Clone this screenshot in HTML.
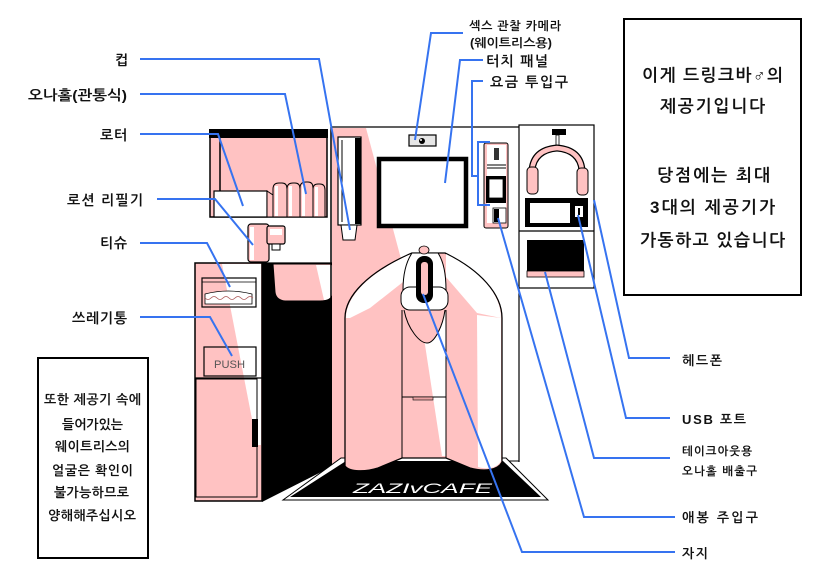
<!DOCTYPE html>
<html><head><meta charset="utf-8"><style>
html,body{margin:0;padding:0;background:#fff;}
svg{display:block;}
text{font-family:"Liberation Sans","NanumGothic","Noto Sans CJK KR",sans-serif;fill:#111;font-weight:bold;}
</style></head><body>
<svg width="819" height="579" viewBox="0 0 819 579" xmlns="http://www.w3.org/2000/svg">
<rect x="0" y="0" width="819" height="579" fill="#fff"/>

<!-- Shelf (rotor / onahole) -->
<rect x="210" y="130" width="117" height="87" fill="#ffc2c2" stroke="#000" stroke-width="1.5"/>
<rect x="209" y="129" width="119" height="9" fill="#000"/>
<line x1="220" y1="138" x2="220" y2="217" stroke="#000" stroke-width="1.5"/>
<rect x="214" y="191" width="53" height="26" fill="#fff" stroke="#000" stroke-width="1.2"/>
<polygon points="267,191 273,195 273,217 267,217" fill="#ffc2c2" stroke="#000" stroke-width="1"/>
<g stroke="#000" stroke-width="1" fill="#ffc2c2">
<path d="M273,217 L273,189 Q273,183 279,183 L282,183 Q287,183 287,189 L287,217 Z"/>
<path d="M287,217 L287,189 Q287,183 293,183 L295,183 Q300,183 300,189 L300,217 Z"/>
<path d="M300,217 L300,188 Q300,182 306,182 L308,182 Q313,182 313,188 L313,217 Z"/>
<path d="M313,217 L313,189 Q313,184 318,184 L320,184 Q325,184 325,190 L325,217 Z"/>
</g>
<g fill="#fff">
<rect x="275" y="186" width="3" height="30"/>
<rect x="289" y="186" width="3" height="30"/>
<rect x="302" y="185" width="3" height="31"/>
<rect x="315" y="187" width="3" height="29"/>
</g>

<!-- Lotion dispenser -->
<rect x="248" y="224" width="21" height="38" rx="3" fill="#ffc2c2" stroke="#000" stroke-width="1.2"/>
<rect x="250" y="227" width="4" height="33" fill="#fff"/>
<rect x="267" y="226" width="18" height="18" rx="2" fill="#ffc2c2" stroke="#000" stroke-width="1.2"/>
<rect x="270" y="229" width="12" height="6" fill="#fff"/>
<rect x="272" y="244" width="8" height="6" fill="#fff" stroke="#000" stroke-width="1"/>

<!-- Cabinet -->
<rect x="195" y="263" width="67" height="238" fill="#ffc2c2" stroke="#000" stroke-width="1.5"/>
<polygon points="222,264 261,264 261,445 257,445" fill="#fff"/>
<rect x="202" y="278" width="54" height="29" fill="none" stroke="#000" stroke-width="1.2"/>
<line x1="202" y1="282" x2="256" y2="282" stroke="#000" stroke-width="0.8"/>
<path d="M205,304 L205,294 Q228,288 252,294 L252,304 Z" fill="#fff" stroke="#000" stroke-width="0.8"/>
<path d="M205,298 q3,3 6,0 t6,0 t6,0 t6,0 t6,0 t6,0 t6,0 t6,0" fill="none" stroke="#a55" stroke-width="0.8"/>
<rect x="204" y="347" width="52" height="29" fill="none" stroke="#000" stroke-width="1.2"/>
<text x="214" y="368" font-size="11" style="fill:#555;font-weight:normal" textLength="31" lengthAdjust="spacingAndGlyphs">PUSH</text>
<line x1="195" y1="378" x2="262" y2="378" stroke="#000" stroke-width="1.2"/>
<rect x="196" y="379" width="61" height="118" fill="none" stroke="#000" stroke-width="1"/>
<rect x="252" y="419" width="6" height="28" fill="#000"/>

<!-- Black side -->
<polygon points="262,263 333,263 333,466 262,502" fill="#000"/>
<!-- Counter -->
<path d="M273,264 L331,264 Q336,266 335,280 L334,292 Q332,301 320,301 L285,301 Q276,300 275,292 Z" fill="#ffc2c2" stroke="#000" stroke-width="1"/>
<path d="M316,265 L331,265 Q335,267 334,280 L333,292 Q331,300 324,300 Z" fill="#fff"/>
<line x1="262" y1="263" x2="333" y2="263" stroke="#000" stroke-width="1.2"/>

<!-- Main body -->
<polygon points="332,128 366,128 420,330 345,468 332,468" fill="#ffc2c2"/>
<line x1="331" y1="127" x2="331" y2="467" stroke="#000" stroke-width="1.5"/>
<line x1="331" y1="127" x2="519" y2="127" stroke="#000" stroke-width="1.2"/>

<!-- Cup dispenser -->
<rect x="338" y="137" width="23" height="88" fill="#fff" stroke="#000" stroke-width="1.2"/>
<rect x="355" y="138" width="6" height="86" fill="#000"/>
<line x1="342" y1="140" x2="342" y2="222" stroke="#000" stroke-width="1"/>
<polygon points="341,225 357,225 355,240 343,240" fill="#fff" stroke="#000" stroke-width="1"/>

<!-- Camera -->
<rect x="409" y="135" width="27" height="11" fill="#e6e6e6" stroke="#000" stroke-width="1.2"/>
<circle cx="422" cy="141" r="3" fill="#000"/>
<circle cx="421" cy="140" r="1" fill="#fff"/>

<!-- Touch panel -->
<rect x="379" y="159" width="87" height="67" fill="#fff" stroke="#000" stroke-width="4.5"/>

<!-- Payment panel -->
<rect x="484" y="143" width="24" height="85" rx="2" fill="#ffc2c2" stroke="#000" stroke-width="1"/>
<rect x="487" y="145" width="19" height="78" fill="#fff"/>
<rect x="494" y="148" width="5" height="12" fill="#333"/>
<line x1="487" y1="165" x2="506" y2="165" stroke="#000" stroke-width="1"/>
<line x1="487" y1="168" x2="506" y2="168" stroke="#000" stroke-width="1"/>
<rect x="486" y="176" width="20" height="27" fill="#000"/>
<rect x="489" y="179" width="14" height="19" fill="#fff" stroke="#000" stroke-width="0.8"/>
<rect x="493" y="208" width="13" height="15" fill="#fff" stroke="#000" stroke-width="0.8"/>
<rect x="494" y="209" width="5" height="13" fill="#000"/>

<!-- Right unit -->
<rect x="519" y="125" width="75" height="163" fill="#fff" stroke="#000" stroke-width="1.2"/>
<line x1="519" y1="231" x2="594" y2="231" stroke="#000" stroke-width="1.2"/>
<line x1="519" y1="288" x2="519" y2="462" stroke="#000" stroke-width="1.2"/>
<line x1="502" y1="461" x2="519" y2="461" stroke="#000" stroke-width="1"/>
<rect x="552" y="129" width="14" height="6" fill="#000"/>
<rect x="556" y="135" width="3" height="15" fill="#fff" stroke="#000" stroke-width="0.8"/>
<path d="M532,170 Q534,150 557,148 Q580,150 582,170" fill="none" stroke="#000" stroke-width="7"/>
<path d="M532,170 Q534,150 557,148 Q580,150 582,170" fill="none" stroke="#ffc2c2" stroke-width="4.5"/>
<rect x="527" y="167" width="11" height="27" rx="4" fill="#ffc2c2" stroke="#000" stroke-width="1"/>
<rect x="577" y="168" width="11" height="27" rx="4" fill="#ffc2c2" stroke="#000" stroke-width="1"/>
<rect x="525" y="198" width="63" height="29" fill="#000"/>
<rect x="530" y="203" width="40" height="20" fill="#fff"/>
<rect x="575" y="206" width="8" height="11" fill="#fff"/>
<rect x="578" y="208" width="2" height="7" fill="#000"/>
<rect x="527" y="240" width="57" height="33" fill="#000"/>
<rect x="527" y="271" width="57" height="6" fill="#ffc2c2" stroke="#000" stroke-width="0.8"/>

<!-- Floor mat -->
<polygon points="283,500 548,500 506,458 341,458" fill="#fff" stroke="#000" stroke-width="1"/>
<polygon points="290,497 541,497 503,461 346,461" fill="#000"/>

<!-- Pod -->
<path d="M345,466 L345,318 C345,296 368,272 412,253 L445,253 C480,270 502,294 502,318 L502,462 C498,470 485,472 470,468 L446,458 L402,458 L378,468 C365,472 350,472 345,466 Z" fill="#ffc2c2" stroke="#000" stroke-width="1.3"/>
<path d="M346,318 C346,297 368,273 411,254 L403,282 L370,308 L350,318 Z" fill="#fff"/>
<path d="M446,254 C480,271 501,294 501,318 L477,313 L446,277 Z" fill="#fff"/>
<path d="M477,315 L501,318 L501,461 C497,468 488,470 478,467 Z" fill="#fff"/>
<polygon points="420,312 446,312 446,456 442,456" fill="#fff"/>
<line x1="402" y1="310" x2="402" y2="458" stroke="#000" stroke-width="1"/>
<line x1="446" y1="310" x2="446" y2="458" stroke="#000" stroke-width="1"/>
<line x1="402" y1="397" x2="446" y2="397" stroke="#000" stroke-width="1"/>
<rect x="413" y="397" width="20" height="3" fill="#e9a0a0" stroke="#000" stroke-width="0.6"/>
<path d="M404,310 C408,330 420,343 427,343 C435,343 443,325 445,310" fill="#ffc2c2" stroke="#000" stroke-width="1"/>
<path d="M403,290 C403,275 406,262 412,253 L438,253 C444,262 446,276 446,290 Z" fill="#fff" stroke="#000" stroke-width="1"/>
<rect x="401" y="287" width="47" height="23" rx="9" fill="#fff" stroke="#000" stroke-width="1"/>
<rect x="416" y="256" width="17" height="47" rx="8" fill="#000"/>
<rect x="421" y="262" width="7" height="33" rx="3" fill="#ffc2c2"/>
<ellipse cx="424" cy="250" rx="5" ry="4" fill="#ffc2c2" stroke="#000" stroke-width="0.8"/>
<text x="353" y="493" font-size="14" font-style="italic" style="fill:#fff;font-weight:normal" textLength="139" lengthAdjust="spacingAndGlyphs">ZAZIvCAFE</text>

<!-- Blue leader lines -->
<g fill="none" stroke="#3673f0" stroke-width="2">
<polyline points="140,59 319,59 350,230"/>
<polyline points="140,94 285,94 306,194"/>
<polyline points="140,134 218,134 243,206"/>
<polyline points="157,199 215,199 253,245"/>
<polyline points="140,243 207,243 230,287"/>
<polyline points="140,317 210,317 232,356"/>
<polyline points="463,33 431,33 415,140"/>
<polyline points="483,60 460,60 445,183"/>
<polyline points="483,81 472,81 472,176 478,176"/>
<polyline points="490,142 478,142 478,205 490,205"/>
<polyline points="670,358 629,358 594,200"/>
<polyline points="670,418 626,418 578,215"/>
<polyline points="670,458 594,458 545,272"/>
<polyline points="675,517 584,517 498,218"/>
<polyline points="675,552 522,552 423,294"/>
</g>

<!-- Left labels -->
<g font-size="14">
<text x="115" y="65" textLength="12">컵</text>
<text x="28" y="100" textLength="99" lengthAdjust="spacingAndGlyphs">오나홀(관통식)</text>
<text x="100" y="140" textLength="27">로터</text>
<text x="67" y="205" textLength="76">로션 리필기</text>
<text x="100" y="248" textLength="27">티슈</text>
<text x="72" y="323" textLength="55">쓰레기통</text>
</g>
<!-- Top labels -->
<text x="469" y="30" font-size="12" textLength="92">섹스 관찰 카메라</text>
<text x="470" y="47" font-size="12" textLength="82" lengthAdjust="spacingAndGlyphs">(웨이트리스용)</text>
<text x="486" y="66" font-size="14" textLength="62">터치 패널</text>
<text x="490" y="87" font-size="14" textLength="78">요금 투입구</text>
<!-- Right labels -->
<text x="682" y="365" font-size="13" textLength="40">헤드폰</text>
<text x="682" y="424" font-size="13" textLength="64">USB 포트</text>
<text x="682" y="455" font-size="11.5" textLength="70">테이크아웃용</text>
<text x="682" y="475" font-size="11.5" textLength="75">오나홀 배출구</text>
<text x="682" y="522" font-size="13" textLength="76">애봉 주입구</text>
<text x="682" y="558" font-size="13" textLength="26">자지</text>

<!-- Right box -->
<rect x="624" y="19" width="177" height="276" fill="none" stroke="#000" stroke-width="2"/>
<g font-size="17">
<text x="642" y="81" textLength="141">이게 드링크바♂의</text>
<text x="660" y="112" textLength="105">제공기입니다</text>
<text x="657" y="181" textLength="113">당점에는 최대</text>
<text x="650" y="213" textLength="125">3대의 제공기가</text>
<text x="640" y="246" textLength="145">가동하고 있습니다</text>
</g>

<!-- Left box -->
<rect x="38" y="358" width="110" height="200" fill="none" stroke="#000" stroke-width="2"/>
<g font-size="13">
<text x="44" y="404" textLength="97">또한 제공기 속에</text>
<text x="62" y="429" textLength="61">들어가있는</text>
<text x="55" y="451" textLength="75">웨이트리스의</text>
<text x="52" y="475" textLength="81">얼굴은 확인이</text>
<text x="54" y="497" textLength="75">불가능하므로</text>
<text x="48" y="520" textLength="88">양해해주십시오</text>
</g>
</svg>
</body></html>
